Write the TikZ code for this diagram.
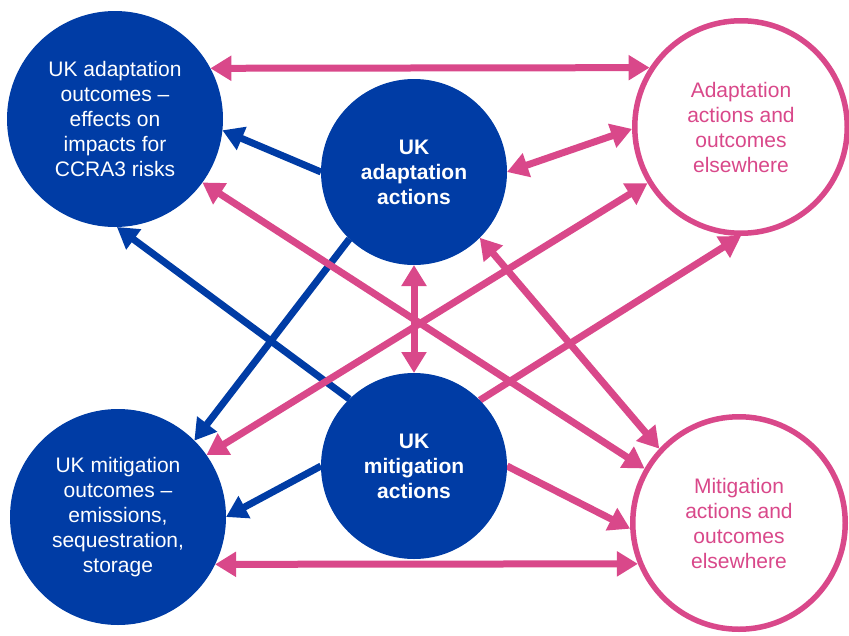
\documentclass[tikz,border=0pt]{standalone}
\usepackage{fontspec}
\setmainfont{Liberation Sans}
\usetikzlibrary{arrows.meta,backgrounds}
\definecolor{ukblue}{RGB}{0,60,165}
\definecolor{ukpink}{RGB}{217,72,138}
\begin{document}
\begin{tikzpicture}[x=1pt,y=-1pt,
  labeltext/.style={font=\fontsize{21}{25}\selectfont, align=center},
  ukcircle/.style={circle, fill=ukblue, text=white, inner sep=0pt, outer sep=0pt, labeltext},
  othercircle/.style={circle, draw=ukpink, line width=5.5pt, fill=white, text=ukpink,
    inner sep=0pt, outer sep=2.75pt, minimum size=212.5pt, labeltext},
  link/.style={line width=7pt, -{Triangle[length=21pt,width=24pt]}},
  bilink/.style={line width=7pt, {Triangle[length=21pt,width=24pt]}-{Triangle[length=21pt,width=24pt]}},
]
\useasboundingbox (0,0) rectangle (849,635);

% UK circles
\node[ukcircle, minimum size=216pt] (uao) at (115,119)
  {UK adaptation\\outcomes --\\effects on\\impacts for\\CCRA3 risks};
\node[ukcircle, minimum size=186pt, font=\fontsize{21}{25}\selectfont\bfseries] (uaa) at (414,172)
  {UK\\adaptation\\actions};
\node[ukcircle, minimum size=216pt] (umo) at (118,517)
  {UK mitigation\\outcomes --\\emissions,\\sequestration,\\storage};
\node[ukcircle, minimum size=186pt, font=\fontsize{21}{25}\selectfont\bfseries] (uma) at (414,466)
  {UK\\mitigation\\actions};

% circles for the rest of the world
\node[othercircle] (aoe) at (741,127)
  {Adaptation\\actions and\\outcomes\\elsewhere};
\node[othercircle] (moe) at (739,523)
  {Mitigation\\actions and\\outcomes\\elsewhere};

% connectors, kept behind the circles
\begin{pgfonlayer}{background}
  % blue: UK actions to UK outcomes
  \draw[link, ukblue] (uaa.180) -- (uao.-6);
  \draw[link, ukblue] (uma.134) -- (uao.-89);
  \draw[link, ukblue] (uaa.226) -- (umo.45);
  \draw[link, ukblue] (uma.180) -- (umo.0);
  % pink: links with elsewhere
  \draw[bilink, ukpink] (uao.28.8) -- (aoe.147.8);
  \draw[bilink, ukpink] (umo.-26.5) -- (moe.202.7);
  \draw[bilink, ukpink] (uaa.0) -- (aoe.181);
  \draw[bilink, ukpink] (uao.-36) -- (moe.150);
  \draw[bilink, ukpink] (aoe.211) -- (umo.35);
  \draw[bilink, ukpink] (uaa.-90) -- (uma.90);
  \draw[bilink, ukpink] (uaa.-45) -- (moe.137);
  \draw[link, ukpink] (uma.45) -- (aoe.-90);
  \draw[link, ukpink] (uma.0) -- (moe.183);
\end{pgfonlayer}
\end{tikzpicture}
\end{document}
